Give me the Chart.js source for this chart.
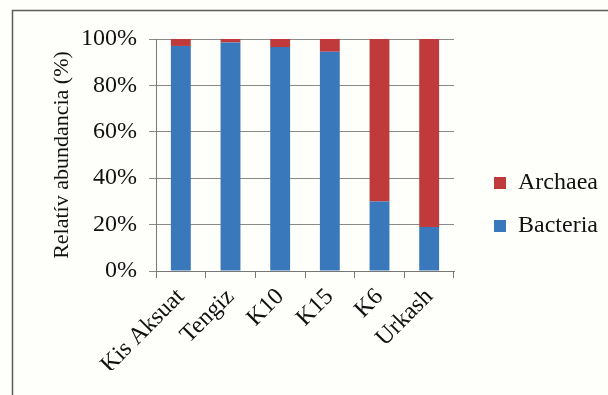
<!DOCTYPE html>
<html>
<head>
<meta charset="utf-8">
<script src="https://cdn.jsdelivr.net/npm/chart.js@4.4.1/dist/chart.umd.min.js"></script>
<style>
  html, body { margin: 0; padding: 0; background: #fefefb; }
  #wrap { width: 608px; height: 395px; }
</style>
</head>
<body>
<div id="wrap"><canvas id="chart" width="608" height="395"></canvas></div>
<script>
const sites = ['Kis Aksuat', 'Tengiz', 'K10', 'K15', 'K6', 'Urkash'];
const bacteria = [97, 98.5, 96.5, 94.5, 30, 19];
const archaea = [3, 1.5, 3.5, 5.5, 70, 81];
const yTicks = [0, 20, 40, 60, 80, 100];

const serif = "'Liberation Serif', 'Times New Roman', serif";

// the legend gets squeezed by the layout when there are 3 side boxes, give it its width back
const LegendBox = Chart.Legend._element;
const legendFit = LegendBox.prototype.fit;
LegendBox.prototype.fit = function () {
    legendFit.call(this);
    if (!this.isHorizontal()) this.width = 133;
};

// frame of the scanned chart (left + top edge only)
const framePlugin = {
    id: 'frame',
    beforeDraw(chart) {
        const ctx = chart.ctx;
        ctx.save();
        ctx.strokeStyle = '#5c5c5c';
        ctx.lineWidth = 1.5;
        ctx.beginPath();
        ctx.moveTo(12.5, 395);
        ctx.lineTo(12.5, 10.5);
        ctx.lineTo(608, 10.5);
        ctx.stroke();
        ctx.restore();
    }
};

new Chart(document.getElementById('chart'), {
    type: 'bar',
    data: {
        labels: sites,
        datasets: [
            { label: 'Bacteria', data: bacteria, backgroundColor: '#3878bb', borderWidth: 0 },
            { label: 'Archaea', data: archaea, backgroundColor: '#c13a3b', borderWidth: 0 }
        ]
    },
    options: {
        responsive: false,
        animation: false,
        layout: { padding: { top: 39, bottom: 25, left: 0, right: 0 } },
        datasets: { bar: { barPercentage: 0.4, categoryPercentage: 1 } },
        plugins: {
            legend: {
                position: 'right',
                reverse: true,
                labels: {
                    font: { family: serif, size: 24 },
                    color: '#111',
                    boxWidth: 12,
                    boxHeight: 12,
                    padding: 19
                }
            },
            tooltip: { enabled: false }
        },
        scales: {
            x: {
                stacked: true,
                grid: { drawOnChartArea: false, drawTicks: true, tickLength: 7, color: '#777', offset: true },
                border: { color: '#777', width: 1 },
                ticks: {
                    font: { family: serif, size: 24 },
                    color: '#111',
                    minRotation: 45,
                    maxRotation: 45,
                    autoSkip: false,
                    padding: 5
                },
                afterFit(scale) { scale.height = 99; }
            },
            y: {
                stacked: true,
                min: 0,
                max: 100,
                afterBuildTicks(scale) { scale.ticks = yTicks.map(v => ({ value: v })); },
                grid: { color: '#8a8a8a', tickLength: 7 },
                border: { color: '#777', width: 1 },
                ticks: {
                    font: { family: serif, size: 24 },
                    color: '#111',
                    padding: 12,
                    callback: v => v + '%'
                },
                title: {
                    display: true,
                    text: 'Relatív abundancia (%)',
                    font: { family: serif, size: 22 },
                    color: '#111',
                    padding: { top: 49, bottom: 0 }
                },
                afterFit(scale) { scale.width = 156; }
            },
            gap: {
                position: 'right',
                display: true,
                grid: { display: false },
                border: { display: false },
                ticks: { display: false },
                afterFit(scale) { scale.width = 21; }
            }
        }
    },
    plugins: [framePlugin]
});
</script>
</body>
</html>
